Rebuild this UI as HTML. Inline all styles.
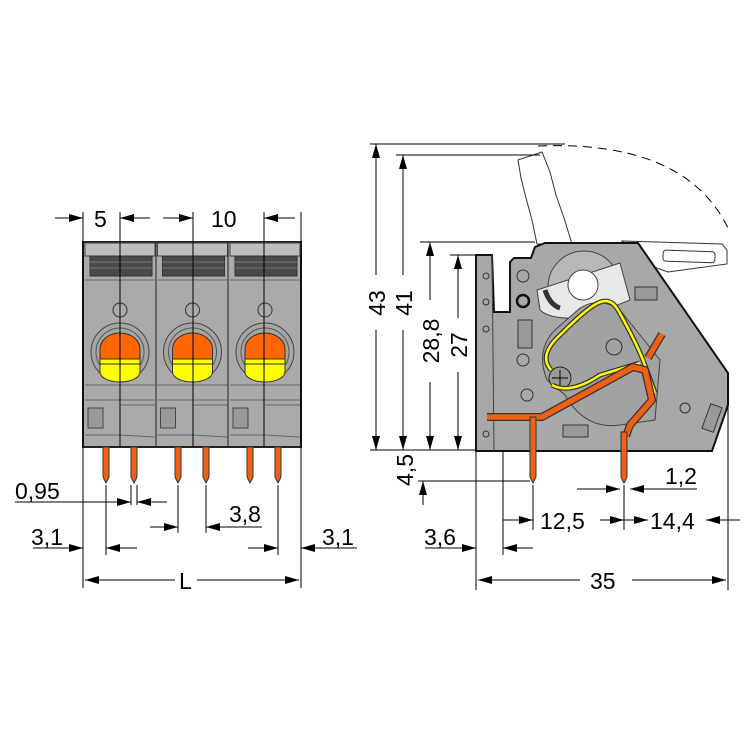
<!DOCTYPE html>
<html><head><meta charset="utf-8"><style>
html,body{margin:0;padding:0;background:#fff}
svg{display:block}
text{font-family:"Liberation Sans",sans-serif;font-size:23px;fill:#000}
</style></head><body>
<svg width="750" height="750" viewBox="0 0 750 750" xmlns="http://www.w3.org/2000/svg">
<defs>
<marker id="a" markerWidth="14" markerHeight="8" refX="14" refY="4" orient="auto" markerUnits="userSpaceOnUse"><path d="M0,0 L14,4 L0,8 Z" fill="#000"/></marker>
</defs>
<g stroke="#000" stroke-width="1" fill="none">
<g>
<rect x="83" y="242" width="218" height="205" fill="#aaaaaa" stroke="#222" stroke-width="2"/>
<g id="m">
<rect x="85" y="243" width="70" height="13" fill="#bdbdbd" stroke="#444"/>
<rect x="90" y="256" width="62" height="20" fill="#4a4a4a" stroke="#333"/>
<line x1="90" y1="262" x2="152" y2="262" stroke="#777"/>
<line x1="90" y1="268" x2="152" y2="268" stroke="#777"/>
<line x1="85" y1="280" x2="155" y2="280" stroke="#666"/>
<circle cx="120" cy="310" r="7" fill="none" stroke="#333"/>
<circle cx="120" cy="352" r="29" fill="#a5a5a5" stroke="#444"/>
<circle cx="120" cy="352" r="24" fill="none" stroke="#555"/>
<path d="M100,359 L100,349 A20,16 0 0 1 140,349 L140,359 Z" fill="#ff6600" stroke="#333"/>
<path d="M100,359 L140,359 L140,372 A20,10 0 0 1 100,372 Z" fill="#ffff00" stroke="#333"/>
<line x1="100" y1="364" x2="140" y2="364" stroke="#333"/>
<line x1="85" y1="385" x2="155" y2="385" stroke="#666"/>
<line x1="85" y1="400" x2="155" y2="400" stroke="#666"/>
<rect x="88" y="408" width="15" height="20" fill="#999" stroke="#444"/>
<line x1="85" y1="435" x2="120" y2="435" stroke="#666"/>
<line x1="120" y1="405" x2="155" y2="405" stroke="#666"/>
<line x1="120" y1="435" x2="155" y2="437" stroke="#666"/>
</g>
<use href="#m" x="72.5"/>
<use href="#m" x="145"/>
<line x1="156" y1="242" x2="156" y2="447" stroke="#222"/>
<line x1="228" y1="242" x2="228" y2="447" stroke="#222"/>
<g fill="#f06010" stroke="#333">
<path d="M103,447 h6 v30 l-3,6 l-3,-6 z"/>
<path d="M131,447 h6 v30 l-3,6 l-3,-6 z"/>
<path d="M175,447 h6 v30 l-3,6 l-3,-6 z"/>
<path d="M203,447 h6 v30 l-3,6 l-3,-6 z"/>
<path d="M247,447 h6 v30 l-3,6 l-3,-6 z"/>
<path d="M275,447 h6 v30 l-3,6 l-3,-6 z"/>
</g>
</g>
<line x1="83" y1="212" x2="83" y2="588"/>
<line x1="301" y1="212" x2="301" y2="588"/>
<line x1="120" y1="212" x2="120" y2="447"/>
<line x1="193" y1="212" x2="193" y2="447"/>
<line x1="264" y1="212" x2="264" y2="447"/>
<line x1="55" y1="218" x2="83" y2="218" marker-end="url(#a)"/>
<line x1="150" y1="218" x2="120" y2="218" marker-end="url(#a)"/>
<line x1="163" y1="218" x2="193" y2="218" marker-end="url(#a)"/>
<line x1="295" y1="218" x2="264" y2="218" marker-end="url(#a)"/>
<line x1="106" y1="485" x2="106" y2="555"/>
<line x1="131" y1="485" x2="131" y2="505"/>
<line x1="137" y1="485" x2="137" y2="505"/>
<line x1="178" y1="485" x2="178" y2="533"/>
<line x1="206" y1="485" x2="206" y2="533"/>
<line x1="278" y1="485" x2="278" y2="555"/>
<line x1="15" y1="502" x2="131" y2="502" marker-end="url(#a)"/>
<line x1="167" y1="502" x2="137" y2="502" marker-end="url(#a)"/>
<line x1="150" y1="527" x2="178" y2="527" marker-end="url(#a)"/>
<line x1="262" y1="527" x2="206" y2="527" marker-end="url(#a)"/>
<line x1="33" y1="548" x2="83" y2="548" marker-end="url(#a)"/>
<line x1="137" y1="548" x2="106" y2="548" marker-end="url(#a)"/>
<line x1="248" y1="548" x2="278" y2="548" marker-end="url(#a)"/>
<line x1="357" y1="548" x2="301" y2="548" marker-end="url(#a)"/>
<line x1="175" y1="580" x2="85" y2="580" marker-end="url(#a)"/>
<line x1="197" y1="580" x2="299" y2="580" marker-end="url(#a)"/>

<path d="M538,146 Q685,140 728,228" stroke-dasharray="9,6"/>
<path d="M518,160 L542,152 L550,172 L556,195 L564,218 L572,244 L537,244 L532,220 L526,198 L521,178 Z" fill="#fff" stroke="#333"/>
<path d="M622,241 L722,244 L727,250 L727,264 L668,272 L640,262 Z" fill="#fff" stroke="#333"/>
<rect x="663" y="251" width="52" height="11" rx="3" transform="rotate(2 690 256)" fill="#fff" stroke="#333"/>
<path d="M476,255 L492,255 L494,312 L510,312 L510,262 L514,258 L531,258 L535,247 L545,243 L638,243 L728,373 L728,405 L712,451 L476,451 Z" fill="#a8a8a8" stroke="#111" stroke-width="2"/>
<line x1="492" y1="255" x2="494" y2="451" stroke="#444"/>
<circle cx="486" cy="276" r="3" stroke="#333"/><circle cx="486" cy="302" r="3" stroke="#333"/><circle cx="486" cy="329" r="3" stroke="#333"/><circle cx="486" cy="434" r="3" stroke="#333"/>
<circle cx="523" cy="276" r="6" stroke="#333"/>
<circle cx="523" cy="301" r="6" stroke="#111" stroke-width="2.5"/>
<rect x="518" y="320" width="14" height="28" fill="#999" stroke="#333"/>
<circle cx="523" cy="360" r="6" stroke="#333"/>
<circle cx="527" cy="395" r="6" stroke="#333"/>
<circle cx="584" cy="287" r="36" fill="#b8b8b8" stroke="#444"/>
<path d="M537,290 L620,263 L630,300 L585,318 Q550,320 540,310 Z" fill="#e8e8e8" stroke="#444"/>
<circle cx="583" cy="285" r="15" fill="#fff" stroke="#444"/>
<path d="M545,290 Q550,305 560,308" stroke="#333" stroke-width="5"/>
<path d="M547,380 Q535,350 555,330 L580,308 Q600,296 620,310 L660,360 L655,420 L620,425 Q585,430 565,395 Z" fill="#a2a2a2" stroke="#444"/>
<circle cx="560" cy="378" r="11" fill="#999" stroke="#222"/>
<line x1="552" y1="378" x2="568" y2="378"/><line x1="560" y1="370" x2="560" y2="386"/>
<circle cx="614" cy="347" r="8" stroke="#333"/>
<path d="M551,370 Q538,355 560,335 Q585,310 596,304 Q610,296 618,310 Q635,340 643,360 L655,393" stroke="#333" stroke-width="5"/>
<path d="M551,370 Q538,355 560,335 Q585,310 596,304 Q610,296 618,310 Q635,340 643,360 L655,393" stroke="#ffff00" stroke-width="2.5"/>
<path d="M552,385 Q570,395 600,375 L640,363" stroke="#333" stroke-width="5"/>
<path d="M552,385 Q570,395 600,375 L640,363" stroke="#ffff00" stroke-width="2.5"/>
<rect x="635" y="287" width="22" height="13" fill="#999" stroke="#333"/>
<circle cx="685" cy="408" r="5" stroke="#333"/>
<rect x="706" y="405" width="12" height="26" transform="rotate(20 712 418)" fill="#999" stroke="#333"/>
<rect x="563" y="425" width="25" height="12" fill="#999" stroke="#333"/>
<path d="M487,417 L542,417 L633,367 L645,370 L652,400 L630,425 L626,436" stroke="#333" stroke-width="8" stroke-linejoin="round"/>
<path d="M487,417 L542,417 L633,367 L645,370 L652,400 L630,425 L626,436" stroke="#f06010" stroke-width="5.5" stroke-linejoin="round"/>
<path d="M648,358 L662,334" stroke="#333" stroke-width="8"/>
<path d="M648,358 L662,334" stroke="#f06010" stroke-width="5.5"/>
<path d="M530,417 h6 v60 l-3,6 l-3,-6 z" fill="#f06010" stroke="#333"/>
<path d="M621,432 h6 v45 l-3,6 l-3,-6 z" fill="#f06010" stroke="#333"/>
<line x1="370" y1="144" x2="565" y2="144"/>
<line x1="396" y1="155" x2="540" y2="155"/>
<line x1="420" y1="242" x2="535" y2="242"/>
<line x1="450" y1="255" x2="476" y2="255"/>
<line x1="370" y1="450" x2="476" y2="450"/>
<line x1="376" y1="275" x2="376" y2="144" marker-end="url(#a)"/>
<line x1="376" y1="330" x2="376" y2="450" marker-end="url(#a)"/>
<line x1="403" y1="275" x2="403" y2="155" marker-end="url(#a)"/>
<line x1="403" y1="330" x2="403" y2="450" marker-end="url(#a)"/>
<line x1="430" y1="300" x2="430" y2="242" marker-end="url(#a)"/>
<line x1="430" y1="382" x2="430" y2="450" marker-end="url(#a)"/>
<line x1="458" y1="318" x2="458" y2="255" marker-end="url(#a)"/>
<line x1="458" y1="372" x2="458" y2="450" marker-end="url(#a)"/>
<line x1="476" y1="450" x2="476" y2="590"/>
<line x1="503" y1="450" x2="503" y2="555"/>
<line x1="533" y1="485" x2="533" y2="530"/>
<line x1="624" y1="485" x2="624" y2="530"/>
<line x1="728" y1="405" x2="728" y2="590"/>
<line x1="418" y1="481" x2="530" y2="481"/>
<line x1="423" y1="505" x2="423" y2="481" marker-end="url(#a)"/>
<line x1="425" y1="548" x2="476" y2="548" marker-end="url(#a)"/>
<line x1="533" y1="548" x2="503" y2="548" marker-end="url(#a)"/>
<line x1="503" y1="520" x2="533" y2="520" marker-end="url(#a)"/>
<line x1="600" y1="520" x2="624" y2="520" marker-end="url(#a)"/>
<line x1="624" y1="520" x2="648" y2="520" marker-end="url(#a)"/>
<line x1="740" y1="520" x2="706" y2="520" marker-end="url(#a)"/>
<line x1="577" y1="489" x2="620" y2="489" marker-end="url(#a)"/>
<line x1="697" y1="489" x2="630" y2="489" marker-end="url(#a)"/>
<line x1="580" y1="580" x2="478" y2="580" marker-end="url(#a)"/>
<line x1="632" y1="580" x2="726" y2="580" marker-end="url(#a)"/>
</g>
<text x="94" y="227">5</text>
<text x="211" y="227">10</text>
<text x="15" y="499">0,95</text>
<text x="229" y="522">3,8</text>
<text x="31" y="545">3,1</text>
<text x="322" y="545">3,1</text>
<text x="179" y="589">L</text>
<text transform="translate(385,303) rotate(-90)" text-anchor="middle">43</text>
<text transform="translate(412,303) rotate(-90)" text-anchor="middle">41</text>
<text transform="translate(439,341) rotate(-90)" text-anchor="middle">28,8</text>
<text transform="translate(467,345) rotate(-90)" text-anchor="middle">27</text>
<text transform="translate(413,470) rotate(-90)" text-anchor="middle">4,5</text>
<text x="424" y="545">3,6</text>
<text x="540" y="529">12,5</text>
<text x="650" y="529">14,4</text>
<text x="665" y="484">1,2</text>
<text x="590" y="589">35</text>
</svg>
</body></html>
